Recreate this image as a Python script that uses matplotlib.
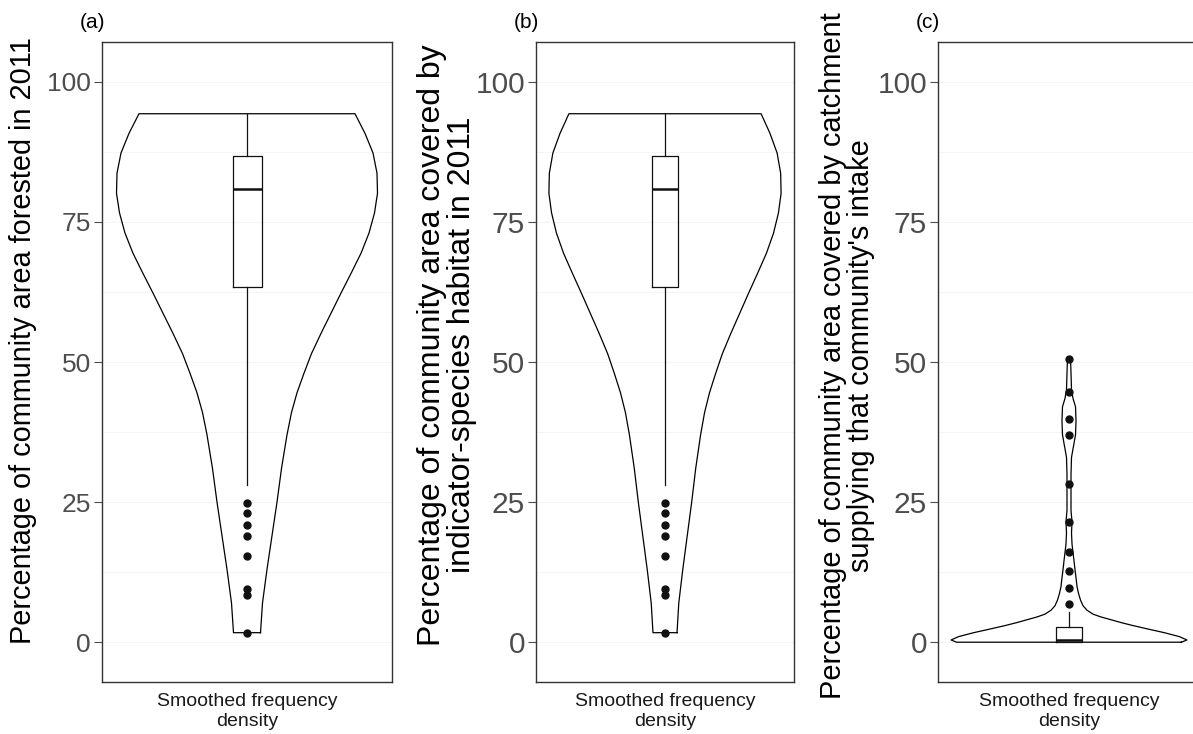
import numpy as np
import matplotlib.pyplot as plt

plt.rcParams['font.family'] = ['Liberation Sans', 'DejaVu Sans']

# (a) and (b): violin outline (value, relative density) and box-plot summary
forest_vals = [1.7, 7.0, 13.0, 19.0, 25.0, 31.0, 37.0, 41.0, 44.5, 48.0, 51.5,
               55.1, 58.7, 62.3, 65.8, 69.4, 73.0, 76.6, 80.1, 83.7, 87.3, 90.8, 94.3]
forest_dens = [13.5, 15.5, 20, 25, 30, 34.5, 40, 44.5, 50, 57, 64.5,
               74, 84, 94, 104, 114, 122, 127.5, 130.5, 130, 126, 118, 108]
forest_stats = dict(whislo=28.0, q1=63.4, med=80.9, q3=86.8, whishi=94.3)
forest_outliers = [24.9, 23.1, 21.0, 19.0, 15.4, 9.5, 8.4, 1.7]

# (c): catchment share
catch_vals = [0.0, 0.4, 1.0, 1.7, 2.3, 3.0, 3.5, 4.0, 4.5, 5.0, 5.7, 6.5, 7.5, 8.7,
              9.9, 11.5, 12.9, 14.5, 16.0, 17.5, 19.5, 21.5, 23.5, 27.0, 30.0, 33.0,
              35.0, 37.0, 39.5, 42.0, 43.5, 45.0, 48.0, 50.7]
catch_dens = [112, 117.5, 110, 95, 80, 63, 52, 42, 32, 24, 18, 14, 11.5, 9.5,
              8, 7, 6, 5, 4, 3, 2.5, 3, 2, 2, 2, 2.5,
              4.5, 6.5, 7, 6.5, 4, 2.5, 2, 1.5]
catch_stats = dict(whislo=0.0, q1=0.0, med=0.4, q3=2.7, whishi=5.4)
catch_outliers = [50.5, 44.6, 39.8, 37.0, 28.2, 21.5, 16.1, 12.7, 9.6, 6.9]

tags = ['(a)', '(b)', '(c)']
ylabels = ['Percentage of community area forested in 2011',
           'Percentage of community area covered by\nindicator-species habitat in 2011',
           'Percentage of community area covered by catchment\nsupplying that community\'s intake']
yticks = [0, 25, 50, 75, 100]

W, H = 1193, 734
fig = plt.figure(figsize=(W / 100, H / 100), dpi=100)

# per-panel layout in pixels
boxes = [(102, 290), (536, 258), (938, 262)]
label_x = [23, 447, 847]
label_y = [341, 345, 356]
label_size = [20.8, 23.0, 20.9]
tick_size = [19, 21.5, 21.5]
panels = [(forest_vals, forest_dens, forest_stats, forest_outliers),
          (forest_vals, forest_dens, forest_stats, forest_outliers),
          (catch_vals, catch_dens, catch_stats, catch_outliers)]

grey = '#4D4D4D'
for i, (vals, dens, stats, outl) in enumerate(panels):
    left, width = boxes[i]
    ax = fig.add_axes([left / W, 52 / H, width / W, 640 / H])
    ax.set_xlim(-1, 1)
    ax.set_ylim(-7.1, 107.1)

    for y in np.arange(0, 101, 12.5):
        ax.axhline(y, color='#F5F5F5', lw=0.8, zorder=0)

    v = np.array(vals)
    hw = np.array(dens) / max(dens) * 0.9
    xs = np.concatenate([hw, -hw[::-1], hw[:1]])
    ys = np.concatenate([v, v[::-1], v[:1]])
    ax.plot(xs, ys, color='black', lw=0.9, zorder=2)

    st = dict(stats, fliers=outl)
    ax.bxp([st], positions=[0], widths=0.2, showcaps=False, patch_artist=False,
           boxprops=dict(color='#111111', lw=0.9),
           whiskerprops=dict(color='#111111', lw=0.9),
           medianprops=dict(color='#111111', lw=1.8),
           flierprops=dict(marker='o', markerfacecolor='#111111',
                           markeredgecolor='#111111', markersize=5))

    ax.set_yticks(yticks)
    ax.set_yticklabels([str(t) for t in yticks], fontsize=tick_size[i], color=grey)
    ax.tick_params(axis='y', length=6, color=grey, width=0.8, pad=2)
    ax.set_xticks([])
    for s in ax.spines.values():
        s.set_color('#333333')
        s.set_linewidth(1.0)

    ax.set_xlabel('Smoothed frequency\ndensity', fontsize=14, color='#1A1A1A',
                  labelpad=8, linespacing=1.2)

    fig.text(label_x[i] / W, 1 - label_y[i] / H, ylabels[i], rotation=90,
             ha='center', va='center', fontsize=label_size[i], color='black',
             multialignment='center', linespacing=1.0)
    fig.text((left - 22) / W, 1 - 23 / H, tags[i], fontsize=15,
             ha='left', va='center', color='black')

fig.savefig('out.png', dpi=100)
